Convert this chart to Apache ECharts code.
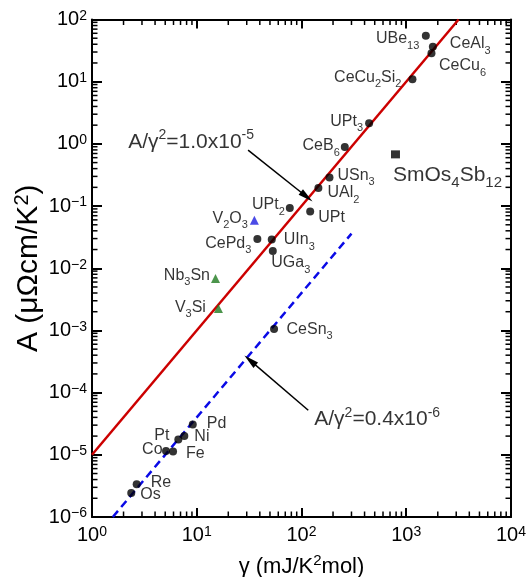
<!DOCTYPE html>
<html><head><meta charset="utf-8">
<script src="https://cdn.jsdelivr.net/npm/echarts@6/dist/echarts.min.js"></script>
<style>html,body{margin:0;padding:0;background:#fff}#c{width:530px;height:577px}</style>
</head><body><div id="c"></div>
<script>
// ---- data ----
const circleNames = ['UBe13','CeAl3','CeCu6','CeCu2Si2','UPt3','CeB6','USn3','UAl2','UPt2','UPt','UIn3','UGa3','CePd3','CeSn3','Pd','Ni','Pt','Co','Fe','Re','Os'];
const circleGamma = [1538,1795,1741,1146,442,259,185,145,77.3,121,52,53.2,37.9,54.7,9.16,7.61,6.67,5.09,5.94,2.67,2.37];
const circleA     = [54.8,36.5,28.6,10.9,2.14,0.888,0.289,0.195,0.0927,0.082,0.029,0.019,0.0294,0.00105,3.07e-5,2.01e-5,1.76e-5,1.15e-5,1.13e-5,3.36e-6,2.43e-6];
const blueTriNames = ['V2O3'];
const blueTriGamma = [35.5];
const blueTriA     = [0.0594];
const greenTriNames = ['Nb3Sn','V3Si'];
const greenTriGamma = [15.1,16.1];
const greenTriA     = [0.00685,0.00226];
const squareNames = ['SmOs4Sb12'];
const squareGamma = [789];
const squareA     = [0.678];
// Kadowaki-Woods reference lines (endpoints)
const kwLine   = [[1,1e-5],[3162,100]];          // A/γ² = 1.0e-5
const metalLine = [[1.58,1e-6],[300,0.036]];     // A/γ² = 0.4e-6
// annotation arrows [from, to]
const arrow1 = [[30.9,0.794],[112,0.141]];
const arrow2 = [[116,5.2e-5],[32.3,3.3e-4]];
const annot1Text = ['A/γ','2','=1.0x10','-5'];
const annot2Text = ['A/γ','2','=0.4x10','-6'];
const xMin = 1, xMax = 1e4, yMin = 1e-6, yMax = 100;
const xTickValues = [1,10,100,1000,10000];
const yTickValues = [1e-6,1e-5,1e-4,1e-3,1e-2,1e-1,1,10,100];

// ---- styling ----
const FONT = 'Liberation Sans';
const TXT = '#000';
// label placement per name: [position, dx, dy]
const place = {
  UBe13:['left',2.5,3], CeAl3:['right',8,-3], CeCu6:['right',-1.5,12.5], CeCu2Si2:['left',-2,-2],
  UPt3:['left',3,-2], CeB6:['left',4,-1.5], USn3:['right',-1,-2], UAl2:['right',0,5],
  UPt2:['left',4,-3.5], UPt:['right',-1,6], UIn3:['right',3,0], UGa3:['right',-10.5,12],
  CePd3:['left',3,4], CeSn3:['right',3.5,0], Pd:['right',5,-1], Ni:['right',1,1],
  Pt:['left',0,-4], Co:['left',5.5,-1], Fe:['right',4,2], Re:['right',5,-2], Os:['right',0,2],
  V2O3:['left',3,-2], Nb3Sn:['left',4,-3], V3Si:['left',-3,-1], SmOs4Sb12:['right',-12,21]
};
function chem(name){
  return name.replace(/(\d+)|(\D+)/g, (m,d,t) => d ? '{s|'+d+'}' : '{n|'+t+'}');
}
const labelRich = {
  n:{fontFamily:FONT,fontSize:16,lineHeight:25,color:TXT},
  s:{fontFamily:FONT,fontSize:11,verticalAlign:'bottom',color:TXT},
  N:{fontFamily:FONT,fontSize:21,lineHeight:30,color:TXT},
  S:{fontFamily:FONT,fontSize:15,verticalAlign:'bottom',color:TXT}
};
function items(names, gs, as, big){
  return names.map((nm,i)=>{
    const p = place[nm] || ['right',0,0];
    let f = chem(nm);
    if (big) f = f.replace(/\{n\|/g,'{N|').replace(/\{s\|/g,'{S|');
    return {name:nm, value:[gs[i], as[i]],
      label:{show:true, position:p[0], distance:5, offset:[p[1],p[2]], formatter:f, rich:labelRich}};
  });
}
function supFmt(arr){
  return '{n|'+arr[0]+'}{p|'+arr[1]+'}{n|'+arr[2]+'}{p|'+arr[3]+'}';
}
const annotRich = {
  n:{fontFamily:FONT,fontSize:21,lineHeight:27,color:TXT},
  p:{fontFamily:FONT,fontSize:14,verticalAlign:'top',color:TXT}
};
function tickFmt(v){
  const e = Math.round(Math.log10(v));
  return '{b|10}{p|' + (e<0 ? '\u2212'+(-e) : e) + '}';
}
const tickRich = {
  b:{fontFamily:FONT,fontSize:20,lineHeight:21,color:TXT},
  p:{fontFamily:FONT,fontSize:14,verticalAlign:'top',color:TXT}
};
const minorX=[], minorY=[];
for (let e=0;e<4;e++) for (let k=2;k<=9;k++) minorX.push(k*Math.pow(10,e));
for (let e=-6;e<2;e++) for (let k=2;k<=9;k++) minorY.push(k*Math.pow(10,e));
const minorData = minorX.map(v=>[v,yMin,0]).concat(minorY.map(v=>[xMin,v,1]));
const MINOR_LEN = 5.5;

const axisLine = {show:true, onZero:false, lineStyle:{color:'#000', width:2}};
function xAx(pos, showLabel){
  return {type:'log', logBase:10, min:xMin, max:xMax, splitNumber:4, position:pos,
    axisLine, axisTick:{show:true, inside:true, length:9, lineStyle:{color:'#000',width:2}},
    splitLine:{show:false}, minorTick:{show:false},
    axisLabel:{show:showLabel, formatter:tickFmt, rich:tickRich, margin:8, showMinLabel:true, showMaxLabel:true},
    name: showLabel ? '{n|\u03b3 (mJ/K}{p|2}{n|mol)}' : '',
    nameLocation:'middle', nameGap:36, nameMoveOverlap:false,
    nameTextStyle:{rich:{n:{fontFamily:FONT,fontSize:22,lineHeight:28,color:TXT},p:{fontFamily:FONT,fontSize:15,verticalAlign:'top',color:TXT}}}
  };
}
function yAx(pos, showLabel){
  return {type:'log', logBase:10, min:yMin, max:yMax, splitNumber:8, position:pos,
    axisLine, axisTick:{show:true, inside:true, length:10, lineStyle:{color:'#000',width:2}},
    splitLine:{show:false}, minorTick:{show:false},
    axisLabel:{show:showLabel, formatter:tickFmt, rich:tickRich, margin:5, showMinLabel:true, showMaxLabel:true},
    name: showLabel ? '{n|A (\u03bc\u03a9cm/K}{p|2}{n|)}' : '',
    nameLocation:'middle', nameGap:46, nameRotate:90, nameMoveOverlap:false,
    nameTextStyle:{rich:{n:{fontFamily:FONT,fontSize:30,lineHeight:34,color:TXT},p:{fontFamily:FONT,fontSize:20,verticalAlign:'top',color:TXT}}}
  };
}

const chart = echarts.init(document.getElementById('c'), null, {renderer:'canvas'});
chart.setOption({
  animation:false,
  backgroundColor:'#fff',
  grid:{left:92, right:19, top:19.5, bottom:60, containLabel:false, outerBoundsMode:'none'},
  xAxis:[xAx('bottom', true), xAx('top', false)],
  yAxis:[yAx('left', true), yAx('right', false)],
  series:[
    {type:'custom', xAxisIndex:0, yAxisIndex:0, data:minorData, encode:{x:0,y:1}, clip:false, silent:true, z:1,
     renderItem:function(params, api){
       const kind = api.value(2);
       const st = {stroke:'#000', lineWidth:1.5};
       if (kind === 0){
         const v = api.value(0);
         const b = api.coord([v, yMin]), t = api.coord([v, yMax]);
         return {type:'group', children:[
           {type:'line', shape:{x1:b[0],y1:b[1],x2:b[0],y2:b[1]-MINOR_LEN}, style:st},
           {type:'line', shape:{x1:t[0],y1:t[1],x2:t[0],y2:t[1]+MINOR_LEN}, style:st}]};
       } else {
         const v = api.value(1);
         const l = api.coord([xMin, v]), r = api.coord([xMax, v]);
         return {type:'group', children:[
           {type:'line', shape:{x1:l[0],y1:l[1],x2:l[0]+MINOR_LEN,y2:l[1]}, style:st},
           {type:'line', shape:{x1:r[0],y1:r[1],x2:r[0]-MINOR_LEN,y2:r[1]}, style:st}]};
       }
     }},
    {type:'line', data:kwLine, showSymbol:false, symbol:'none', z:2,
     lineStyle:{color:'#cc0000', width:2.5}},
    {type:'line', data:metalLine, showSymbol:false, symbol:'none', z:2,
     lineStyle:{color:'#0a0ae6', width:2.5, type:[8,5]}},
    {type:'scatter', data:items(circleNames, circleGamma, circleA), symbol:'circle', symbolSize:8, z:5,
     itemStyle:{color:'#000'}},
    {type:'scatter', data:items(blueTriNames, blueTriGamma, blueTriA), symbol:'triangle', symbolSize:9, z:5,
     itemStyle:{color:'#1e1ee0'}},
    {type:'scatter', data:items(greenTriNames, greenTriGamma, greenTriA), symbol:'triangle', symbolSize:9, z:5,
     itemStyle:{color:'#1f7a1f'}},
    {type:'scatter', data:items(squareNames, squareGamma, squareA, true), symbol:'rect', symbolSize:[9,8], z:5,
     itemStyle:{color:'#000'}},
    {type:'scatter', symbolSize:0, z:6, silent:true,
     data:[
       {value:arrow1[0], label:{show:true, position:'left', distance:0, offset:[6,-8], formatter:supFmt(annot1Text), rich:annotRich}},
       {value:arrow2[0], label:{show:true, position:'right', distance:0, offset:[6,9], formatter:supFmt(annot2Text), rich:annotRich}}
     ],
     markLine:{silent:true, animation:false, symbol:['none','triangle'], symbolSize:[7,15],
       label:{show:false}, lineStyle:{color:'#000', width:1.5, type:'solid'},
       emphasis:{disabled:true},
       data:[
         [{coord:arrow1[0]},{coord:arrow1[1]}],
         [{coord:arrow2[0]},{coord:arrow2[1]}]
       ]}}
  ]
});
</script></body></html>
